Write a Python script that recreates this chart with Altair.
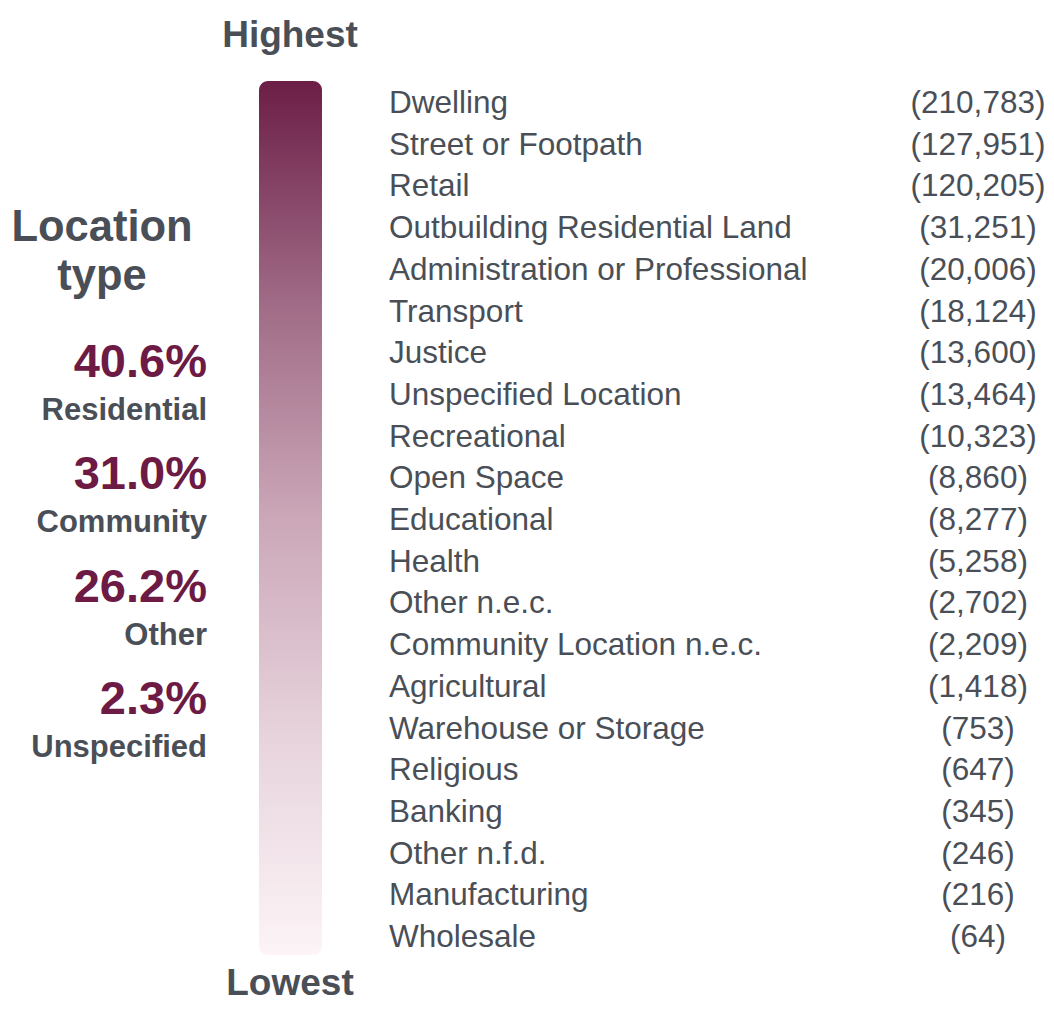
import altair as alt
import pandas as pd

categories = [
    "Dwelling", "Street or Footpath", "Retail", "Outbuilding Residential Land",
    "Administration or Professional", "Transport", "Justice", "Unspecified Location",
    "Recreational", "Open Space", "Educational", "Health", "Other n.e.c.",
    "Community Location n.e.c.", "Agricultural", "Warehouse or Storage", "Religious",
    "Banking", "Other n.f.d.", "Manufacturing", "Wholesale",
]
counts = [
    210783, 127951, 120205, 31251, 20006, 18124, 13600, 13464, 10323, 8860,
    8277, 5258, 2702, 2209, 1418, 753, 647, 345, 246, 216, 64,
]
groups = ["Residential", "Community", "Other", "Unspecified"]
group_pct = [40.6, 31.0, 26.2, 2.3]

FONT = "Liberation Sans"
GREY = "#4A4F57"
MAROON = "#6D1A44"

df = pd.DataFrame({"category": categories, "count": counts})
gdf = pd.DataFrame({"group": groups, "pct": group_pct})
bar_df = pd.DataFrame({"top": [categories[0]], "bottom": [categories[-1]]})

yscale = alt.Scale(type="point", domain=categories, range=[105, 939], padding=0)
gscale = alt.Scale(type="point", domain=groups, range=[369, 706], padding=0)

gradient = alt.Gradient(
    gradient="linear",
    x1=0, x2=0, y1=0, y2=1,
    stops=[
        alt.GradientStop(offset=0, color="#6C1E47"),
        alt.GradientStop(offset=0.25, color="#9F6A85"),
        alt.GradientStop(offset=0.5, color="#CBA7B8"),
        alt.GradientStop(offset=0.75, color="#E7D3DC"),
        alt.GradientStop(offset=1, color="#FCF4F7"),
    ],
)

bar = alt.Chart(bar_df).mark_rect(
    fill=gradient, cornerRadius=9, yOffset=-32, y2Offset=8
).encode(
    x=alt.value(251), x2=alt.value(314),
    y=alt.Y("top:N", scale=yscale, axis=None),
    y2="bottom:N",
)

labels = alt.Chart(df).mark_text(
    align="left", baseline="alphabetic", font=FONT, fontSize=31.5, color=GREY
).encode(
    x=alt.value(381),
    y=alt.Y("category:N", scale=yscale, axis=None),
    text="category:N",
)

nums = alt.Chart(df).transform_calculate(
    label="'(' + format(datum.count, ',') + ')'"
).mark_text(
    align="center", baseline="alphabetic", font=FONT, fontSize=31.5, color=GREY
).encode(
    x=alt.value(970),
    y=alt.Y("category:N", scale=yscale, axis=None),
    text="label:N",
)

pcts = alt.Chart(gdf).transform_calculate(
    label="format(datum.pct, '.1f') + '%'"
).mark_text(
    align="right", baseline="alphabetic", font=FONT, fontSize=47,
    fontWeight="bold", color=MAROON
).encode(
    x=alt.value(199),
    y=alt.Y("group:N", scale=gscale, axis=None),
    text="label:N",
)

gnames = alt.Chart(gdf).mark_text(
    align="right", baseline="alphabetic", font=FONT, fontSize=31,
    fontWeight="bold", color=GREY, dy=43
).encode(
    x=alt.value(199),
    y=alt.Y("group:N", scale=gscale, axis=None),
    text="group:N",
)

title = alt.Chart(pd.DataFrame({"t": ["Location type"]})).mark_text(
    align="center", baseline="alphabetic", font=FONT, fontSize=43.5,
    fontWeight="bold", color=GREY, lineHeight=49
).encode(
    x=alt.value(94), y=alt.value(233),
    text=alt.value(["Location", "type"]),
)

highest = alt.Chart(pd.DataFrame({"t": ["Highest"]})).mark_text(
    align="center", baseline="alphabetic", font=FONT, fontSize=37,
    fontWeight="bold", color=GREY
).encode(x=alt.value(282), y=alt.value(39), text="t:N")

lowest = alt.Chart(pd.DataFrame({"t": ["Lowest"]})).mark_text(
    align="center", baseline="alphabetic", font=FONT, fontSize=37,
    fontWeight="bold", color=GREY
).encode(x=alt.value(282), y=alt.value(987), text="t:N")

chart = alt.layer(
    bar, labels, nums, pcts, gnames, title, highest, lowest
).resolve_scale(y="independent").properties(
    width=1038, height=996, padding=0,
    autosize=alt.AutoSizeParams(type="none"),
    background="white",
).configure_view(stroke=None)

chart.save("out.html", embed_options={"renderer": "svg", "actions": False})
